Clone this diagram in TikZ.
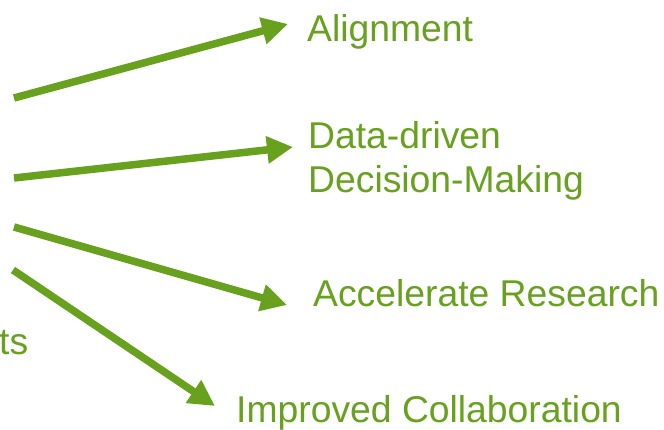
\documentclass[tikz,border=0pt]{standalone}
\usepackage{fontspec}
\setmainfont{Liberation Sans}
\usetikzlibrary{arrows.meta}
\definecolor{leaf}{RGB}{103,161,30}
\begin{document}
\begin{tikzpicture}[x=1pt,y=-1pt,
  lbl/.style={text=leaf,inner sep=0pt,anchor=base west,align=left,
    font=\fontsize{37.3}{44}\selectfont},
  arr/.style={draw=leaf,line width=7.5pt,-{Triangle[length=26pt,width=26pt]}}]
\useasboundingbox[fill=white] (0,0) rectangle (664,430);
\node[lbl] (align) at (307,42) {Alignment};
\node[lbl] (data) at (308,193) {Data-driven\\Decision-Making};
\node[lbl] (accel) at (313,307) {Accelerate Research};
\node[lbl] (collab) at (236,422) {Improved Collaboration};
\node[lbl] (ts) at (-1,355) {ts};
\coordinate (s1) at (14,98);
\coordinate (s2) at (14,178);
\coordinate (s3) at (14,227);
\coordinate (s4) at (13,270);
\coordinate (t1) at (288,24);
\coordinate (t2) at (293,147);
\coordinate (t3) at (287,305);
\coordinate (t4) at (215,406);
\draw[arr] (s1) -- (t1);
\draw[arr] (s2) -- (t2);
\draw[arr] (s3) -- (t3);
\draw[arr] (s4) -- (t4);
\end{tikzpicture}
\end{document}
